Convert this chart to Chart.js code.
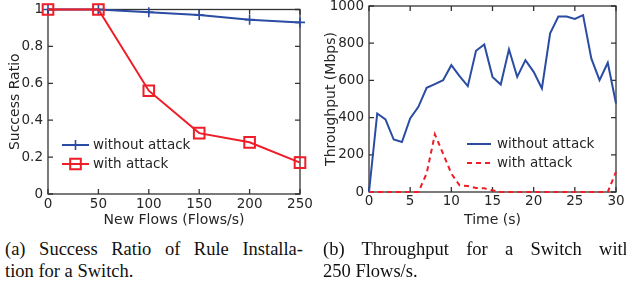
<!DOCTYPE html>
<html>
<head>
<meta charset="utf-8">
<script src="https://cdn.jsdelivr.net/npm/chart.js@4.4.0/dist/chart.umd.min.js"></script>
<style>
  html, body { margin: 0; padding: 0; background: #fff; width: 626px; height: 290px; overflow: hidden; }
  canvas { position: absolute; top: 0; }
  #chartA { left: 0; }
  #chartB { left: 310px; }
  .cap { position: absolute; font-family: "Liberation Serif", "Times New Roman", serif; font-size: 18.5px;
         line-height: 22px; color: #111; white-space: nowrap; }
  .just { text-align: justify; text-align-last: justify; white-space: normal; }
</style>
</head>
<body>
<canvas id="chartA" width="320" height="232"></canvas>
<canvas id="chartB" width="316" height="232"></canvas>

<div class="cap just" style="left:5px;top:238px;width:298px">(a) Success Ratio of Rule Installa-</div>
<div class="cap" style="left:5px;top:260px">tion for a Switch.</div>
<div class="cap just" style="left:323px;top:238px;width:309px">(b) Throughput for a Switch with</div>
<div class="cap" style="left:323px;top:260px">250 Flows/s.</div>

<script>
'use strict';

/* ── Data ───────────────────────────────────────────────────────────────── */
// (a) success ratio vs. new flows
const flows        = [0, 50, 100, 150, 200, 250];
const ratioWithout = [1, 1, 0.985, 0.97, 0.945, 0.93];
const ratioWith    = [1, 1, 0.56, 0.33, 0.28, 0.17];
const flowTicks    = [0, 50, 100, 150, 200, 250];
const ratioTicks   = [0, 0.2, 0.4, 0.6, 0.8, 1];

// (b) throughput over time
const seconds = [0, 1, 2, 3, 4, 5, 6, 7, 8, 9, 10, 11, 12, 13, 14, 15,
                 16, 17, 18, 19, 20, 21, 22, 23, 24, 25, 26, 27, 28, 29, 30];
const tputWithout = [0, 422, 390, 282, 269, 395, 458, 560, 580, 601, 682, 623, 569, 759, 793, 619,
                     578, 767, 619, 709, 646, 557, 853, 943, 943, 930, 951, 718, 601, 695, 476];
const tputWith    = [0, 0, 0, 0, 0, 0, 0, 100, 310, 206, 99, 36, 32, 22, 20, 9,
                     0, 0, 0, 0, 0, 0, 0, 0, 0, 0, 0, 0, 0, 0, 108];
const timeTicks = [0, 5, 10, 15, 20, 25, 30];
const tputTicks = [0, 200, 400, 600, 800, 1000];

/* ── Shared styling ─────────────────────────────────────────────────────── */
const BLUE = '#2a4ca3';
const RED  = '#ef1d27';
const INK  = '#262626';
const FONT = '"DejaVu Sans", Verdana, sans-serif';

const pts = (xs, ys) => xs.map((x, i) => ({ x, y: ys[i] }));

// Box frame with inward tick marks on all four sides
const framePlugin = {
  id: 'frame',
  beforeDatasetsDraw(chart) {
    const { ctx, chartArea: a, scales: { x, y } } = chart;
    const len = 5;
    ctx.save();
    ctx.strokeStyle = '#333';
    ctx.lineWidth = 1.3;
    ctx.strokeRect(a.left, a.top, a.right - a.left, a.bottom - a.top);
    ctx.beginPath();
    x.ticks.forEach(t => {
      const px = x.getPixelForValue(t.value);
      ctx.moveTo(px, a.bottom); ctx.lineTo(px, a.bottom - len);
      ctx.moveTo(px, a.top);    ctx.lineTo(px, a.top + len);
    });
    y.ticks.forEach(t => {
      const py = y.getPixelForValue(t.value);
      ctx.moveTo(a.left, py);  ctx.lineTo(a.left + len, py);
      ctx.moveTo(a.right, py); ctx.lineTo(a.right - len, py);
    });
    ctx.stroke();
    ctx.restore();
  }
};

// Legend drawn inside the plot area
const legendPlugin = {
  id: 'insideLegend',
  afterDraw(chart, args, opts) {
    const ctx = chart.ctx;
    chart.data.datasets.forEach((ds, i) => {
      const y  = opts.y + i * opts.gap;
      const cx = opts.x + opts.len / 2;
      ctx.save();
      ctx.strokeStyle = ds.borderColor;
      ctx.lineWidth = ds.borderWidth;
      ctx.setLineDash(ds.borderDash || []);
      ctx.beginPath();
      ctx.moveTo(opts.x, y);
      ctx.lineTo(opts.x + opts.len, y);
      ctx.stroke();
      ctx.setLineDash([]);
      if (ds.pointRadius) {
        const r = ds.pointRadius;
        ctx.lineWidth = ds.pointBorderWidth;
        ctx.beginPath();
        if (ds.pointStyle === 'cross') {
          ctx.moveTo(cx - r, y); ctx.lineTo(cx + r, y);
          ctx.moveTo(cx, y - r); ctx.lineTo(cx, y + r);
        } else {
          const h = r * Math.SQRT1_2;
          ctx.rect(cx - h, y - h, 2 * h, 2 * h);
        }
        ctx.stroke();
      }
      ctx.fillStyle = INK;
      ctx.font = '13.5px ' + FONT;
      ctx.textBaseline = 'middle';
      ctx.fillText(ds.label, opts.textX, y + 0.5);
      ctx.restore();
    });
  }
};

function makeAxis(tickVals, min, max, title, opt) {
  return {
    type: 'linear',
    min, max,
    afterBuildTicks: s => { s.ticks = tickVals.map(v => ({ value: v })); },
    afterFit: s => {
      if (opt.width)  s.width  = opt.width;
      if (opt.height) s.height = opt.height;
      s.paddingLeft = s.paddingRight = s.paddingTop = s.paddingBottom = 0;
    },
    grid: { display: false, drawTicks: false },
    border: { display: false },
    ticks: {
      color: INK, font: { family: FONT, size: 13.5 }, padding: opt.tickPad,
      autoSkip: false, maxRotation: 0, callback: v => String(v)
    },
    title: { display: true, text: title, color: INK, font: { family: FONT, size: 14 }, padding: opt.titlePad }
  };
}

const baseOptions = {
  responsive: false,
  animation: false,
  devicePixelRatio: 1,
  events: [],
  plugins: { legend: { display: false }, tooltip: { enabled: false } }
};

/* ── (a) Success ratio ──────────────────────────────────────────────────── */
new Chart(document.getElementById('chartA'), {
  type: 'line',
  data: {
    datasets: [{
      label: 'without attack',
      data: pts(flows, ratioWithout),
      borderColor: BLUE, borderWidth: 2, tension: 0, clip: false, order: 1,
      pointStyle: 'cross', pointRadius: 5, pointBorderWidth: 1.6, pointBorderColor: BLUE
    }, {
      label: 'with attack',
      data: pts(flows, ratioWith),
      borderColor: RED, borderWidth: 2, tension: 0, clip: false, order: 0,
      pointStyle: 'rect', pointRadius: 7.5, pointBorderWidth: 2, pointBorderColor: RED,
      pointBackgroundColor: 'rgba(255,255,255,0)'
    }]
  },
  options: {
    ...baseOptions,
    layout: { padding: { top: 9, right: 20, bottom: 0, left: 0 } },
    scales: {
      x: makeAxis(flowTicks, 0, 250, 'New Flows (Flows/s)',
                  { height: 38, tickPad: 2, titlePad: { top: 0, bottom: 3.6 } }),
      y: makeAxis(ratioTicks, 0, 1, 'Success Ratio',
                  { width: 48, tickPad: 5, titlePad: { top: 6.6, bottom: 0 } })
    },
    plugins: {
      ...baseOptions.plugins,
      insideLegend: { x: 62, len: 27, y: 145, gap: 19, textX: 93 }
    }
  },
  plugins: [framePlugin, legendPlugin]
});

/* ── (b) Throughput ─────────────────────────────────────────────────────── */
new Chart(document.getElementById('chartB'), {
  type: 'line',
  data: {
    datasets: [{
      label: 'without attack',
      data: pts(seconds, tputWithout),
      borderColor: BLUE, borderWidth: 2, tension: 0, clip: false, pointRadius: 0, order: 1
    }, {
      label: 'with attack',
      data: pts(seconds, tputWith),
      borderColor: RED, borderWidth: 2, borderDash: [5, 4], tension: 0, clip: false, pointRadius: 0, order: 0
    }]
  },
  options: {
    ...baseOptions,
    layout: { padding: { top: 6, right: 10, bottom: 0, left: 0 } },
    scales: {
      x: makeAxis(timeTicks, 0, 30, 'Time (s)',
                  { height: 40, tickPad: 1, titlePad: { top: 0, bottom: 3.6 } }),
      y: makeAxis(tputTicks, 0, 1000, 'Throughput (Mbps)',
                  { width: 59, tickPad: 5, titlePad: { top: 13, bottom: 0 } })
    },
    plugins: {
      ...baseOptions.plugins,
      insideLegend: { x: 157, len: 24, y: 144, gap: 19, textX: 187 }
    }
  },
  plugins: [framePlugin, legendPlugin]
});
</script>
</body>
</html>
